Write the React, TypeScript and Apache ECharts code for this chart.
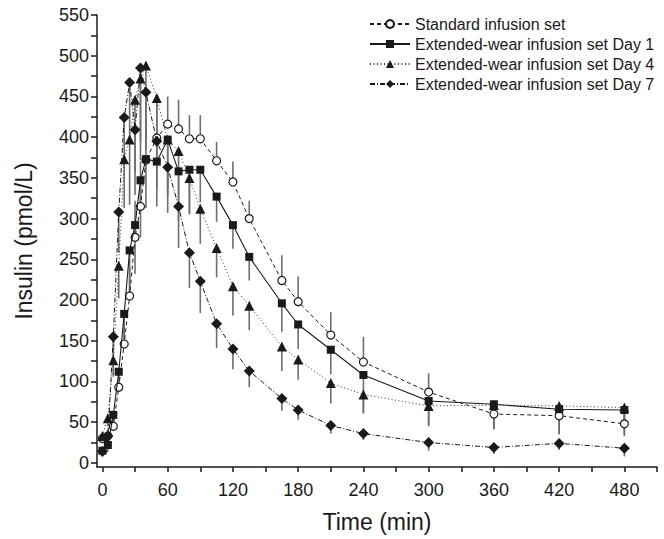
import React, { useEffect, useRef } from "react";
import * as echarts from "echarts";

const times = [0, 5, 10, 15, 20, 25, 30, 35, 40, 50, 60, 70, 80, 90, 105, 120, 135, 165, 180, 210, 240, 300, 360, 420, 480];

const standard = [30, 33, 45, 93, 146, 205, 277, 315, 372, 399, 416, 410, 398, 398, 371, 345, 300, 224, 198, 157, 124, 87, 60, 58, 48];
const standardSd = [5, 8, 10, 15, 25, 35, 45, 55, 50, 51, 34, 36, 29, 29, 23, 25, 22, 31, 31, 28, 31, 23, 12, 10, 14];

const day1 = [15, 22, 59, 112, 183, 261, 292, 347, 373, 370, 397, 358, 360, 360, 327, 292, 253, 196, 170, 139, 108, 76, 72, 66, 65];
const day1Sd = [5, 8, 10, 25, 40, 60, 60, 70, 60, 55, 60, 60, 55, 40, 31, 29, 29, 35, 30, 30, 47, 30, 30, 30, 30];

const day4 = [33, 55, 126, 242, 373, 397, 446, 472, 488, 448, 397, 383, 350, 312, 264, 217, 193, 143, 127, 98, 84, 70, 71, 70, 68];
const day4Sd = [5, 10, 20, 40, 60, 80, 90, 100, 90, 80, 70, 60, 43, 43, 36, 36, 30, 30, 25, 25, 23, 25, 30, 35, 35];

const day7 = [14, 33, 155, 308, 424, 467, 409, 485, 455, 395, 363, 315, 258, 223, 171, 140, 113, 79, 65, 46, 36, 25, 19, 24, 18];
const day7Sd = [5, 8, 30, 50, 60, 70, 80, 90, 70, 60, 56, 51, 43, 39, 30, 25, 20, 15, 12, 10, 8, 10, 8, 8, 10];

const seriesNames = [
  "Standard infusion set",
  "Extended-wear infusion set Day 1",
  "Extended-wear infusion set Day 4",
  "Extended-wear infusion set Day 7",
];

const xTickValues = [0, 30, 60, 90, 120, 150, 180, 210, 240, 270, 300, 330, 360, 390, 420, 450, 480, 510];
const xLabelValues = [0, 60, 120, 180, 240, 300, 360, 420, 480];
const yTickValues = [0, 25, 50, 75, 100, 125, 150, 175, 200, 225, 250, 275, 300, 325, 350, 375, 400, 425, 450, 475, 500, 525, 550];
const yLabelValues = [0, 50, 100, 150, 200, 250, 300, 350, 400, 450, 500, 550];

const FONT = "Liberation Sans, Arial, Helvetica, sans-serif";
const INK = "#1a1a1a";

function pairs(vals: number[]) {
  return times.map((t, i) => [t, vals[i]]);
}

function errorSeries(name: string, vals: number[], sds: number[], dir: number) {
  return {
    type: "custom",
    name,
    z: 1,
    silent: true,
    data: times.map((t, i) => [t, vals[i], sds[i]]),
    renderItem: (params: any, api: any) => {
      const x = api.value(0);
      const v = api.value(1);
      const sd = api.value(2);
      const p1 = api.coord([x, v]);
      const p2 = api.coord([x, v + dir * sd]);
      return {
        type: "line",
        shape: { x1: p1[0], y1: p1[1], x2: p2[0], y2: p2[1] },
        style: { stroke: "#6e6e6e", lineWidth: 1.6 },
      };
    },
  };
}

export default function App() {
  const ref = useRef<HTMLDivElement>(null);
  useEffect(() => {
    if (!ref.current) return;
    const chart = echarts.init(ref.current, null, { renderer: "svg" });
    chart.setOption({
      animation: false,
      backgroundColor: "#ffffff",
      grid: { left: 97, right: 7, top: 15, bottom: 72, containLabel: false },
      legend: {
        orient: "vertical",
        left: 364,
        top: 11,
        itemWidth: 40,
        itemHeight: 10,
        itemGap: 4,
        data: seriesNames,
        textStyle: { fontFamily: FONT, fontSize: 16, color: INK },
      },
      xAxis: {
        type: "value",
        min: -5,
        max: 510,
        name: "Time (min)",
        nameLocation: "middle",
        nameGap: 43,
        nameTextStyle: { fontFamily: FONT, fontSize: 23, color: INK },
        axisLine: { show: true, onZero: false, lineStyle: { color: INK, width: 1.5 } },
        axisTick: { show: true, inside: false, length: 5, customValues: xTickValues, lineStyle: { color: INK, width: 1.5 } },
        axisLabel: { customValues: xLabelValues, margin: 14, fontFamily: FONT, fontSize: 18, color: INK },
        splitLine: { show: false },
      },
      yAxis: {
        type: "value",
        min: -5,
        max: 550,
        name: "Insulin (pmol/L)",
        nameLocation: "middle",
        nameGap: 62,
        nameRotate: 90,
        nameTextStyle: { fontFamily: FONT, fontSize: 23, color: INK },
        axisLine: { show: true, onZero: false, lineStyle: { color: INK, width: 1.5 } },
        axisTick: { show: true, inside: false, length: 6, customValues: yTickValues, lineStyle: { color: INK, width: 1.5 } },
        axisLabel: { customValues: yLabelValues, margin: 8, fontFamily: FONT, fontSize: 18, color: INK },
        splitLine: { show: false },
      },
      series: [
        errorSeries("sd-standard", standard, standardSd, 1),
        errorSeries("sd-day1", day1, day1Sd, -1),
        errorSeries("sd-day4", day4, day4Sd, -1),
        errorSeries("sd-day7", day7, day7Sd, -1),
        {
          type: "line",
          name: seriesNames[0],
          z: 2,
          data: pairs(standard),
          symbol: "circle",
          symbolSize: 8,
          itemStyle: { color: "#ffffff", borderColor: INK, borderWidth: 1.2 },
          lineStyle: { color: INK, width: 1, type: [4, 3] },
        },
        {
          type: "line",
          name: seriesNames[1],
          z: 3,
          data: pairs(day1),
          symbol: "rect",
          symbolSize: 8,
          itemStyle: { color: INK, borderColor: INK, borderWidth: 0 },
          lineStyle: { color: INK, width: 1.1, type: "solid" },
        },
        {
          type: "line",
          name: seriesNames[2],
          z: 4,
          data: pairs(day4),
          symbol: "triangle",
          symbolSize: 10,
          itemStyle: { color: INK, borderColor: INK, borderWidth: 0 },
          lineStyle: { color: "#333", width: 1, type: [1, 2.5] },
        },
        {
          type: "line",
          name: seriesNames[3],
          z: 5,
          data: pairs(day7),
          symbol: "diamond",
          symbolSize: 11,
          itemStyle: { color: INK, borderColor: INK, borderWidth: 0 },
          lineStyle: { color: INK, width: 1, type: [5, 2, 1, 2] },
        },
      ],
    });
    return () => chart.dispose();
  }, []);
  return <div ref={ref} style={{ width: 664, height: 539, position: "absolute", left: 0, top: 0 }} />;
}
